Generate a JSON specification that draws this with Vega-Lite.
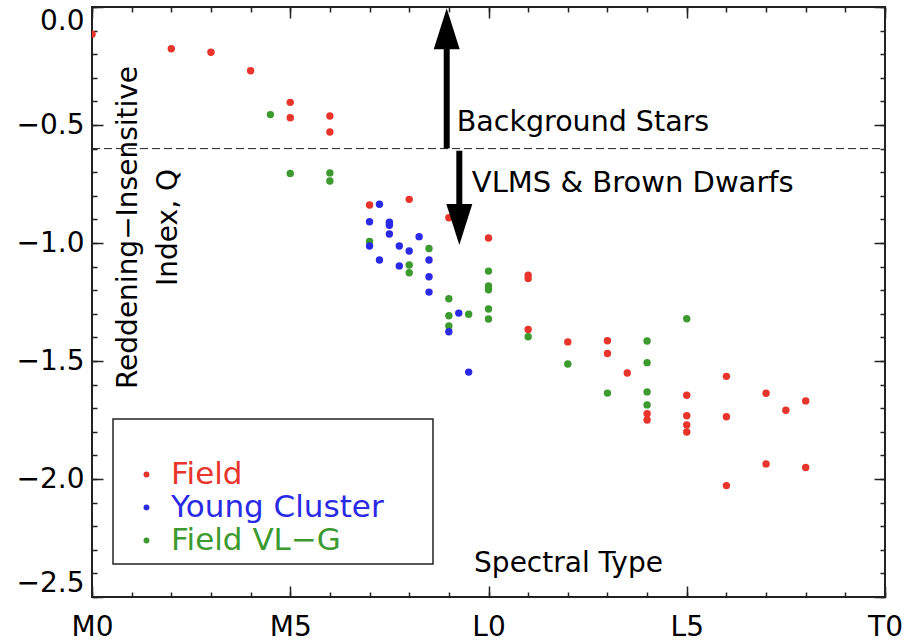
{
  "$schema": "https://vega.github.io/schema/vega-lite/v6.json",
  "width": 793,
  "height": 590,
  "autosize": "none",
  "padding": {"left": 92, "top": 7, "right": 33, "bottom": 47},
  "background": "white",
  "config": {
    "view": {"stroke": "#222", "strokeWidth": 2},
    "font": "DejaVu Sans",
    "axis": {"domain": false, "grid": false, "tickColor": "#222", "tickWidth": 1.5, "labelColor": "black", "labelFont": "DejaVu Sans", "labelFontSize": 28, "labelFlush": false, "labelOverlap": false, "titleFont": "DejaVu Sans", "titleFontSize": 28, "titleFontWeight": "normal", "titleColor": "black"}
  },
  "datasets": {
    "one": [{}],
    "stars": [
      {"t": 4.5, "q": -0.456, "g": "Field VL−G"},
      {"t": 5, "q": -0.705, "g": "Field VL−G"},
      {"t": 6, "q": -0.703, "g": "Field VL−G"},
      {"t": 6, "q": -0.737, "g": "Field VL−G"},
      {"t": 7, "q": -0.993, "g": "Field VL−G"},
      {"t": 8.5, "q": -1.023, "g": "Field VL−G"},
      {"t": 8, "q": -1.093, "g": "Field VL−G"},
      {"t": 8, "q": -1.126, "g": "Field VL−G"},
      {"t": 9, "q": -1.236, "g": "Field VL−G"},
      {"t": 9, "q": -1.308, "g": "Field VL−G"},
      {"t": 9, "q": -1.352, "g": "Field VL−G"},
      {"t": 9.5, "q": -1.302, "g": "Field VL−G"},
      {"t": 10, "q": -1.119, "g": "Field VL−G"},
      {"t": 10, "q": -1.182, "g": "Field VL−G"},
      {"t": 10, "q": -1.198, "g": "Field VL−G"},
      {"t": 10, "q": -1.28, "g": "Field VL−G"},
      {"t": 10, "q": -1.322, "g": "Field VL−G"},
      {"t": 11, "q": -1.397, "g": "Field VL−G"},
      {"t": 12, "q": -1.513, "g": "Field VL−G"},
      {"t": 13, "q": -1.636, "g": "Field VL−G"},
      {"t": 14, "q": -1.415, "g": "Field VL−G"},
      {"t": 14, "q": -1.507, "g": "Field VL−G"},
      {"t": 14, "q": -1.631, "g": "Field VL−G"},
      {"t": 14, "q": -1.686, "g": "Field VL−G"},
      {"t": 15, "q": -1.321, "g": "Field VL−G"},
      {"t": 0, "q": -0.115, "g": "Field"},
      {"t": 2, "q": -0.177, "g": "Field"},
      {"t": 3, "q": -0.192, "g": "Field"},
      {"t": 4, "q": -0.27, "g": "Field"},
      {"t": 5, "q": -0.404, "g": "Field"},
      {"t": 5, "q": -0.469, "g": "Field"},
      {"t": 6, "q": -0.462, "g": "Field"},
      {"t": 6, "q": -0.53, "g": "Field"},
      {"t": 7, "q": -0.839, "g": "Field"},
      {"t": 8, "q": -0.815, "g": "Field"},
      {"t": 9, "q": -0.893, "g": "Field"},
      {"t": 10, "q": -0.979, "g": "Field"},
      {"t": 11, "q": -1.136, "g": "Field"},
      {"t": 11, "q": -1.15, "g": "Field"},
      {"t": 11, "q": -1.366, "g": "Field"},
      {"t": 12, "q": -1.419, "g": "Field"},
      {"t": 13, "q": -1.414, "g": "Field"},
      {"t": 13, "q": -1.468, "g": "Field"},
      {"t": 13.5, "q": -1.551, "g": "Field"},
      {"t": 14, "q": -1.723, "g": "Field"},
      {"t": 14, "q": -1.75, "g": "Field"},
      {"t": 15, "q": -1.645, "g": "Field"},
      {"t": 15, "q": -1.732, "g": "Field"},
      {"t": 15, "q": -1.771, "g": "Field"},
      {"t": 15, "q": -1.801, "g": "Field"},
      {"t": 16, "q": -1.565, "g": "Field"},
      {"t": 16, "q": -1.736, "g": "Field"},
      {"t": 16, "q": -2.028, "g": "Field"},
      {"t": 17, "q": -1.637, "g": "Field"},
      {"t": 17, "q": -1.936, "g": "Field"},
      {"t": 17.5, "q": -1.709, "g": "Field"},
      {"t": 18, "q": -1.669, "g": "Field"},
      {"t": 18, "q": -1.951, "g": "Field"},
      {"t": 7.25, "q": -0.836, "g": "Young Cluster"},
      {"t": 7, "q": -0.91, "g": "Young Cluster"},
      {"t": 7.5, "q": -0.912, "g": "Young Cluster"},
      {"t": 7.5, "q": -0.925, "g": "Young Cluster"},
      {"t": 7.5, "q": -0.962, "g": "Young Cluster"},
      {"t": 8.25, "q": -0.973, "g": "Young Cluster"},
      {"t": 7, "q": -1.013, "g": "Young Cluster"},
      {"t": 7.75, "q": -1.013, "g": "Young Cluster"},
      {"t": 8, "q": -1.034, "g": "Young Cluster"},
      {"t": 7.25, "q": -1.072, "g": "Young Cluster"},
      {"t": 7.75, "q": -1.097, "g": "Young Cluster"},
      {"t": 8.5, "q": -1.072, "g": "Young Cluster"},
      {"t": 8.5, "q": -1.143, "g": "Young Cluster"},
      {"t": 8.5, "q": -1.208, "g": "Young Cluster"},
      {"t": 9.25, "q": -1.297, "g": "Young Cluster"},
      {"t": 9, "q": -1.376, "g": "Young Cluster"},
      {"t": 9.5, "q": -1.547, "g": "Young Cluster"}
    ]
  },
  "layer": [
    {
      "data": {"name": "one"},
      "mark": {"type": "rect", "fill": "white", "stroke": "#222", "strokeWidth": 1.5},
      "encoding": {
        "x": {"datum": 0.53, "type": "quantitative", "scale": {"domain": [0, 20], "nice": false, "zero": false}, "axis": null},
        "x2": {"datum": 8.6},
        "y": {"datum": -1.746, "type": "quantitative", "scale": {"domain": [-2.5, 0], "nice": false, "zero": false}, "axis": null},
        "y2": {"datum": -2.36}
      }
    },
    {
      "data": {"name": "stars"},
      "mark": {"type": "circle", "size": 55, "opacity": 1, "clip": true},
      "encoding": {
        "x": {"field": "t", "type": "quantitative", "scale": {"domain": [0, 20], "nice": false, "zero": false},
          "axis": {"orient": "bottom", "values": [0, 5, 10, 15, 20], "labelExpr": "['M0','M5','L0','L5','T0'][round(datum.value/5)]", "tickSize": -11, "labelPadding": 27,
            "title": "Spectral Type", "titleX": 476, "titleY": -26, "titleBaseline": "alphabetic", "titleAlign": "center"}},
        "y": {"field": "q", "type": "quantitative", "scale": {"domain": [-2.5, 0], "nice": false, "zero": false},
          "axis": {"orient": "left", "values": [0, -0.5, -1, -1.5, -2, -2.5], "format": ".1f", "tickSize": -11, "labelPadding": 19, "labelFlush": true,
            "title": ["Reddening−Insensitive", "Index, Q"], "titleAngle": -90, "titleX": 44, "titleY": 220, "titleBaseline": "alphabetic", "titleAlign": "center", "titleLineHeight": 40}},
        "color": {"field": "g", "type": "nominal",
          "scale": {"domain": ["Field", "Young Cluster", "Field VL−G"], "range": ["#e8342a", "#2a2ae6", "#3c9a2e"]},
          "legend": {"orient": "none", "legendX": 39, "legendY": 452, "title": null, "labelFont": "DejaVu Sans", "labelFontSize": 31, "labelLimit": 500, "symbolType": "circle", "symbolSize": 35, "symbolOpacity": 1, "labelOffset": 9, "rowPadding": 1, "padding": 0,
            "encode": {"labels": {"update": {"fill": {"scale": "color", "field": "value"}}}}}}
      }
    },
    {
      "data": {"name": "one"},
      "mark": {"type": "rule", "strokeDash": [8, 4], "strokeWidth": 1, "color": "#222"},
      "encoding": {
        "x": {"datum": 0, "type": "quantitative", "scale": {"domain": [0, 20], "nice": false, "zero": false},
          "axis": {"orient": "bottom", "values": [0,1,2,3,4,5,6,7,8,9,10,11,12,13,14,15,16,17,18,19,20], "labels": false, "tickSize": -5, "title": null}},
        "x2": {"datum": 20},
        "y": {"datum": -0.6, "type": "quantitative", "scale": {"domain": [-2.5, 0], "nice": false, "zero": false},
          "axis": {"orient": "left", "values": [0,-0.1,-0.2,-0.3,-0.4,-0.5,-0.6,-0.7,-0.8,-0.9,-1,-1.1,-1.2,-1.3,-1.4,-1.5,-1.6,-1.7,-1.8,-1.9,-2,-2.1,-2.2,-2.3,-2.4,-2.5], "labels": false, "tickSize": -5, "title": null}}
      }
    },
    {
      "data": {"name": "one"},
      "mark": {"type": "rule", "strokeWidth": 6, "color": "black"},
      "encoding": {
        "x": {"datum": 8.946, "type": "quantitative", "scale": {"domain": [0, 20], "nice": false, "zero": false},
          "axis": {"orient": "top", "values": [0, 5, 10, 15, 20], "labels": false, "tickSize": -11, "title": null}},
        "y": {"datum": -0.599, "type": "quantitative", "scale": {"domain": [-2.5, 0], "nice": false, "zero": false},
          "axis": {"orient": "right", "values": [0, -0.5, -1, -1.5, -2, -2.5], "labels": false, "tickSize": -11, "title": null}},
        "y2": {"datum": -0.175}
      }
    },
    {
      "data": {"name": "one"},
      "mark": {"type": "rule", "strokeWidth": 6, "color": "black"},
      "encoding": {
        "x": {"datum": 9.264, "type": "quantitative", "scale": {"domain": [0, 20], "nice": false, "zero": false},
          "axis": {"orient": "top", "values": [0,1,2,3,4,5,6,7,8,9,10,11,12,13,14,15,16,17,18,19,20], "labels": false, "tickSize": -5, "title": null}},
        "y": {"datum": -0.609, "type": "quantitative", "scale": {"domain": [-2.5, 0], "nice": false, "zero": false},
          "axis": {"orient": "right", "values": [0,-0.1,-0.2,-0.3,-0.4,-0.5,-0.6,-0.7,-0.8,-0.9,-1,-1.1,-1.2,-1.3,-1.4,-1.5,-1.6,-1.7,-1.8,-1.9,-2,-2.1,-2.2,-2.3,-2.4,-2.5], "labels": false, "tickSize": -5, "title": null}},
        "y2": {"datum": -0.84}
      }
    },
    {
      "data": {"name": "one"},
      "mark": {"type": "point", "shape": "M0,-1L0.634,1L-0.634,1Z", "filled": true, "color": "black", "opacity": 1, "size": 1681, "strokeWidth": 0},
      "encoding": {
        "x": {"datum": 8.946, "type": "quantitative", "axis": null},
        "y": {"datum": -0.0924, "type": "quantitative", "axis": null}
      }
    },
    {
      "data": {"name": "one"},
      "mark": {"type": "point", "shape": "M0,1L0.634,-1L-0.634,-1Z", "filled": true, "color": "black", "opacity": 1, "size": 1681, "strokeWidth": 0},
      "encoding": {
        "x": {"datum": 9.264, "type": "quantitative", "axis": null},
        "y": {"datum": -0.9216, "type": "quantitative", "axis": null}
      }
    },
    {
      "data": {"name": "one"},
      "mark": {"type": "text", "text": "Background Stars", "align": "left", "baseline": "alphabetic", "font": "DejaVu Sans", "fontSize": 28.5, "color": "black"},
      "encoding": {
        "x": {"datum": 9.2, "type": "quantitative", "axis": null},
        "y": {"datum": -0.524, "type": "quantitative", "axis": null}
      }
    },
    {
      "data": {"name": "one"},
      "mark": {"type": "text", "text": "VLMS & Brown Dwarfs", "align": "left", "baseline": "alphabetic", "font": "DejaVu Sans", "fontSize": 29, "color": "black"},
      "encoding": {
        "x": {"datum": 9.58, "type": "quantitative", "axis": null},
        "y": {"datum": -0.783, "type": "quantitative", "axis": null}
      }
    }
  ],
  "resolve": {"axis": {"x": "independent", "y": "independent"}}
}
